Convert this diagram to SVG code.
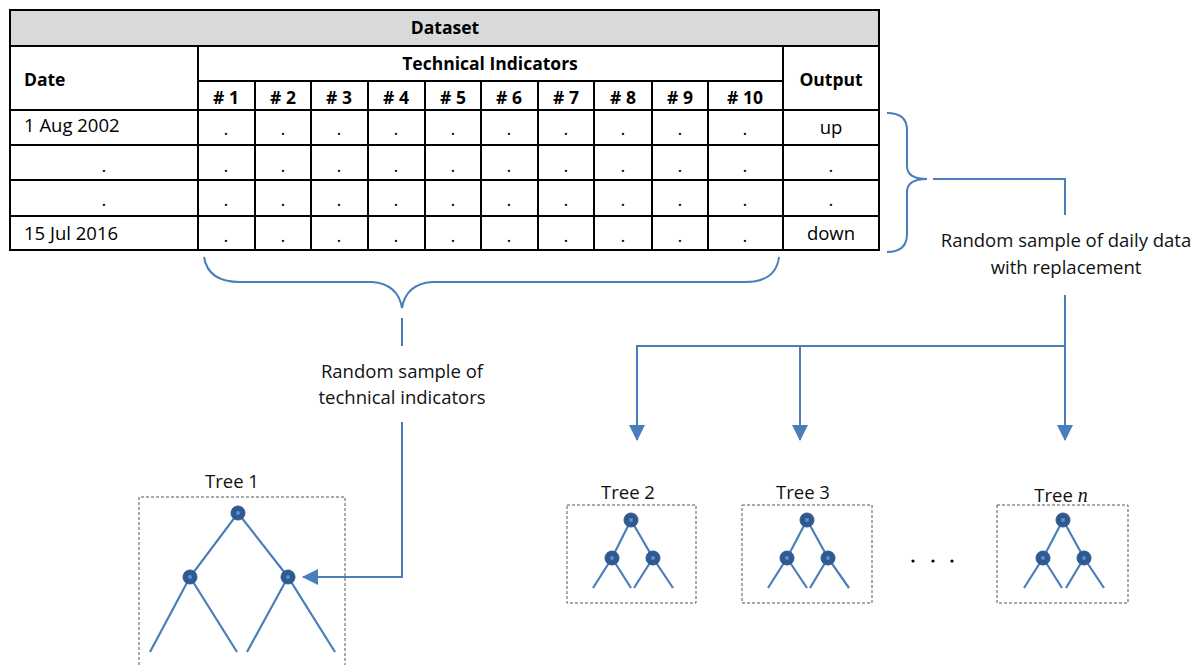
<svg xmlns="http://www.w3.org/2000/svg" width="1202" height="665" viewBox="0 0 1202 665">
<defs>
<style>
.t{font-family:"Open Sans","Noto Sans","Liberation Sans",sans-serif;fill:#000;}
.b{font-weight:bold;font-size:17.5px;}
.r{font-size:18.5px;}
.lbl{font-size:18.5px;fill:#111;}
.m{text-anchor:middle;}
.grid{stroke:#000;stroke-width:2;fill:none;}
.conn{stroke:#4a7ebb;stroke-width:2;fill:none;}
.box{stroke:#555;stroke-width:1;stroke-dasharray:3,2;fill:none;}
.edge{stroke:#4a7ebb;stroke-width:2.2;fill:none;}
.node{fill:#30598f;stroke:#2e5a94;stroke-width:1;}
.core{fill:#5b8fd0;}
</style>
<marker id="ah" markerUnits="userSpaceOnUse" markerWidth="16" markerHeight="16" viewBox="0 0 16 16" refX="15" refY="8" orient="auto">
<path d="M0,0 L16,8 L0,16 Z" fill="#4a7ebb"/>
</marker>
</defs>

<g id="dataset-table">
<rect x="10" y="10" width="869" height="36" fill="#d9d9d9"/>
<rect x="10" y="10" width="869" height="240" class="grid"/>
<line x1="10" y1="46" x2="879" y2="46" class="grid"/>
<line x1="198" y1="81" x2="783" y2="81" class="grid"/>
<line x1="10" y1="110" x2="879" y2="110" class="grid"/>
<line x1="10" y1="145" x2="879" y2="145" class="grid"/>
<line x1="10" y1="180" x2="879" y2="180" class="grid"/>
<line x1="10" y1="216" x2="879" y2="216" class="grid"/>
<line x1="198" y1="46" x2="198" y2="250" class="grid"/>
<line x1="783" y1="46" x2="783" y2="250" class="grid"/>
<g class="grid">
<line x1="255" y1="81" x2="255" y2="250"/>
<line x1="311" y1="81" x2="311" y2="250"/>
<line x1="368" y1="81" x2="368" y2="250"/>
<line x1="425" y1="81" x2="425" y2="250"/>
<line x1="481" y1="81" x2="481" y2="250"/>
<line x1="538" y1="81" x2="538" y2="250"/>
<line x1="594" y1="81" x2="594" y2="250"/>
<line x1="652" y1="81" x2="652" y2="250"/>
<line x1="708" y1="81" x2="708" y2="250"/>
</g>
<text x="445" y="34" class="t b m">Dataset</text>
<text x="24" y="86" class="t b">Date</text>
<text x="490" y="70" class="t b m">Technical Indicators</text>
<text x="831" y="86" class="t b m">Output</text>
<g class="t b m">
<text x="226" y="104"># 1</text>
<text x="283" y="104"># 2</text>
<text x="339" y="104"># 3</text>
<text x="396" y="104"># 4</text>
<text x="453" y="104"># 5</text>
<text x="509" y="104"># 6</text>
<text x="566" y="104"># 7</text>
<text x="623" y="104"># 8</text>
<text x="680" y="104"># 9</text>
<text x="745" y="104"># 10</text>
</g>
<text x="24" y="132" class="t r">1 Aug 2002</text>
<text x="24" y="240" class="t r">15 Jul 2016</text>
<text x="831" y="134" class="t r m">up</text>
<text x="831" y="240" class="t r m">down</text>
<g class="t r m">
<text x="104" y="172">.</text><text x="104" y="206">.</text>
<text x="831" y="172">.</text><text x="831" y="206">.</text>
<text x="226" y="135">.</text><text x="283" y="135">.</text><text x="339" y="135">.</text><text x="396" y="135">.</text><text x="453" y="135">.</text><text x="509" y="135">.</text><text x="566" y="135">.</text><text x="623" y="135">.</text><text x="680" y="135">.</text><text x="745" y="135">.</text>
<text x="226" y="172">.</text><text x="283" y="172">.</text><text x="339" y="172">.</text><text x="396" y="172">.</text><text x="453" y="172">.</text><text x="509" y="172">.</text><text x="566" y="172">.</text><text x="623" y="172">.</text><text x="680" y="172">.</text><text x="745" y="172">.</text>
<text x="226" y="206">.</text><text x="283" y="206">.</text><text x="339" y="206">.</text><text x="396" y="206">.</text><text x="453" y="206">.</text><text x="509" y="206">.</text><text x="566" y="206">.</text><text x="623" y="206">.</text><text x="680" y="206">.</text><text x="745" y="206">.</text>
<text x="226" y="242">.</text><text x="283" y="242">.</text><text x="339" y="242">.</text><text x="396" y="242">.</text><text x="453" y="242">.</text><text x="509" y="242">.</text><text x="566" y="242">.</text><text x="623" y="242">.</text><text x="680" y="242">.</text><text x="745" y="242">.</text>
</g>
</g>

<g id="connectors">
<path class="conn" d="M887,113 Q907,113 907,130 L907,166 Q907,179 927,179 Q907,179 907,192 L907,234 Q907,252 887,252"/>
<path class="conn" d="M204,257 Q208,282 240,282 L372,282 Q398,284 402,308 Q406,284 432,282 L745,282 Q776,282 779,257"/>
<path class="conn" d="M933,179 L1065,179 L1065,215"/>
<path class="conn" d="M1065,295 L1065,440" marker-end="url(#ah)"/>
<path class="conn" d="M1065,346 L637,346 L637,440" marker-end="url(#ah)"/>
<path class="conn" d="M800,346 L800,440" marker-end="url(#ah)"/>
<path class="conn" d="M402,318 L402,346"/>
<path class="conn" d="M402,422 L402,577 L303,577" marker-end="url(#ah)"/>
</g>

<g id="label-daily">
<text x="1066" y="247" class="t lbl m">Random sample of daily data</text>
<text x="1066" y="274" class="t lbl m">with replacement</text>
</g>
<g id="label-indicators">
<text x="402" y="378" class="t lbl m">Random sample of</text>
<text x="402" y="404" class="t lbl m">technical indicators</text>
</g>

<g id="tree1">
<text x="232" y="488" class="t lbl m">Tree 1</text>
<path class="box" d="M139,665 L139,497 L345,497 L345,665"/>
<path class="edge" d="M150,652 L190,577 L238,513 L288,577 L335,652 M190,577 L237,652 M288,577 L247,652"/>
<circle cx="238" cy="513" r="7" class="node"/><circle cx="238" cy="513" r="2" class="core"/>
<circle cx="190" cy="577" r="7" class="node"/><circle cx="190" cy="577" r="2" class="core"/>
<circle cx="288" cy="577" r="7" class="node"/><circle cx="288" cy="577" r="2" class="core"/>
</g>

<g id="tree2">
<text x="628" y="499" class="t lbl m">Tree 2</text>
<rect x="567" y="505" width="129" height="98" class="box"/>
<path class="edge" d="M593,588 L612,558 L631,520 L653,558 L673,588 M612,558 L631,588 M653,558 L634,588"/>
<circle cx="631" cy="520" r="7" class="node"/><circle cx="631" cy="520" r="2" class="core"/>
<circle cx="612" cy="558" r="7" class="node"/><circle cx="612" cy="558" r="2" class="core"/>
<circle cx="653" cy="558" r="7" class="node"/><circle cx="653" cy="558" r="2" class="core"/>
</g>

<g id="tree3">
<text x="803" y="499" class="t lbl m">Tree 3</text>
<rect x="742" y="505" width="130" height="98" class="box"/>
<path class="edge" d="M768,588 L787,558 L807,520 L828,558 L849,588 M787,558 L807,588 M828,558 L810,588"/>
<circle cx="807" cy="520" r="7" class="node"/><circle cx="807" cy="520" r="2" class="core"/>
<circle cx="787" cy="558" r="7" class="node"/><circle cx="787" cy="558" r="2" class="core"/>
<circle cx="828" cy="558" r="7" class="node"/><circle cx="828" cy="558" r="2" class="core"/>
</g>

<g id="ellipsis">
<circle cx="913" cy="561" r="1.6" fill="#000"/>
<circle cx="933" cy="561" r="1.6" fill="#000"/>
<circle cx="952" cy="561" r="1.6" fill="#000"/>
</g>

<g id="treen">
<text x="1061" y="502" class="t lbl m">Tree <tspan font-family="'Liberation Serif',serif" font-style="italic" font-size="20px">n</tspan></text>
<rect x="997" y="505" width="131" height="98" class="box"/>
<path class="edge" d="M1024,588 L1043,558 L1063,520 L1084,558 L1104,588 M1043,558 L1062,588 M1084,558 L1066,588"/>
<circle cx="1063" cy="520" r="7" class="node"/><circle cx="1063" cy="520" r="2" class="core"/>
<circle cx="1043" cy="558" r="7" class="node"/><circle cx="1043" cy="558" r="2" class="core"/>
<circle cx="1084" cy="558" r="7" class="node"/><circle cx="1084" cy="558" r="2" class="core"/>
</g>
</svg>
